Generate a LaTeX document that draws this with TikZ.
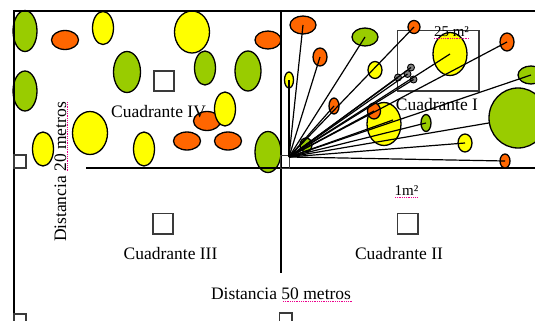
\documentclass[tikz,border=0pt]{standalone}
\usepackage{fontspec}
\setmainfont{Liberation Serif}
\usetikzlibrary{shapes.geometric}
\definecolor{grn}{HTML}{99CC00}
\definecolor{org}{HTML}{FF6600}
\definecolor{yel}{HTML}{FFFF00}
\definecolor{gry}{HTML}{7F7F7F}
\definecolor{sqc}{HTML}{3A3A3A}
\begin{document}
\begin{tikzpicture}[x=1pt,y=-1pt,
  ell/.style={ellipse, draw=black, line width=1.3pt, inner sep=0pt, outer sep=0pt},
  wh/.style 2 args={minimum width=#1pt, minimum height=#2pt},
  eg/.style={ell, fill=grn}, eo/.style={ell, fill=org}, ey/.style={ell, fill=yel},
  gc/.style={circle, draw=black, line width=0.9pt, fill=gry, inner sep=0pt, minimum size=7pt},
  ray/.style={line width=1.2pt},
  sq/.style={draw=sqc, line width=1.3pt},
  lbl/.style={font=\fontsize{17.5}{20}\selectfont, inner sep=0pt, anchor=base},
  slbl/.style={font=\fontsize{15}{17}\selectfont, inner sep=0pt, anchor=base},
  spell/.style={draw=magenta, line width=0.6pt, dash pattern=on 0.6pt off 1.2pt},
  frame/.style={line width=2.7pt, line join=miter},
  divider/.style={line width=2pt}]
\useasboundingbox (0,0) rectangle (535,321);
\clip (0,0) rectangle (535,321);
\fill[white] (0,0) rectangle (535,321);

% ---- Quadrant IV ellipses
\node[eg, wh={24}{41}] (g1) at (25,31) {};
\node[eo, wh={27}{19}] (o2) at (65,40) {};
\node[ey, wh={21}{33}] (y3) at (103,28) {};
\node[ey, wh={35}{42}] (y4) at (192,32) {};
\node[eo, wh={26}{18}] (o5) at (268,40) {};
\node[eg, wh={27}{41}] (g6) at (127,72) {};
\node[eg, wh={21}{34}] (g7) at (205,68) {};
\node[eg, wh={26}{40}] (g8) at (248,71) {};
\node[eg, wh={24}{40}] (g9) at (25,91) {};
\node[eo, wh={27}{19}] (o11) at (207,121) {};
\node[ey, wh={21}{34}] (y10) at (225,109) {};
\node[ey, wh={35}{43}] (y12) at (90,133) {};
\node[ey, wh={21}{34}] (y13) at (43,149) {};
\node[ey, wh={21}{34}] (y14) at (144,149) {};
\node[eo, wh={27}{18}] (o15) at (187,141) {};
\node[eo, wh={27}{18}] (o16) at (228,141) {};
\node[eg, wh={26}{41}] (g17) at (268,152) {};

% ---- frame and dividers
\draw[frame] (535,11) -- (14,11) -- (14,322);
\draw[divider] (280.5,11) -- (280.5,273);
\draw[divider] (86,168) -- (535,168);

% ---- squares
\draw[sq] (154,71) rectangle (174,91);
\draw[sq] (153,213.5) rectangle (173,234);
\draw[sq] (397.5,213.5) rectangle (418,234);
\draw[sq] (14,155) rectangle (26,168);
\draw[sq] (14,314) rectangle (26,326);
\draw[sq] (279.5,313) rectangle (292,326);
\draw[sq, line width=1pt] (280.5,155) rectangle (289,168);
\draw[sq, line width=1.2pt] (397.5,30.5) rectangle (479,91);

% ---- Quadrant I ellipses
\node[eo, wh={26}{18}] (o18) at (303,25) {};
\node[eo, wh={14}{18}] (o19) at (320,57) {};
\node[ey, wh={9}{16}] (y20) at (289,80) {};
\node[eg, wh={26}{18}] (g21) at (365,37) {};
\node[ey, wh={14}{17}] (y22) at (375,70) {};
\node[eo, wh={12}{13}] (o23) at (414,27) {};
\node[ey, wh={34}{43}] (y24) at (450,54) {};
\node[eo, wh={14}{18}] (o25) at (507,42) {};
\node[eg, wh={26}{18}] (g26) at (531,75) {};
\node[eo, wh={10}{16}] (o27) at (334,106) {};
\node[ey, wh={34}{43}] (y29) at (384,124) {};
\node[eo, wh={13}{16}] (o28) at (374,111) {};
\node[eg, wh={10}{17}] (g30) at (426,123) {};
\node[eg, wh={58}{60}] (g31) at (518,118) {};
\node[ey, wh={14}{18}] (y32) at (465,143) {};
\node[eg, wh={12}{14}] (g33) at (306,145) {};
\node[eo, wh={10}{14}] (o34) at (505,161) {};

\node[gc] (c1) at (398,77.5) {};
\node[gc] (c2) at (407.5,74) {};
\node[gc] (c3) at (411,67.5) {};
\node[gc] (c4) at (413.5,79.5) {};

% ---- rays
\coordinate (O) at (289,157);
\coordinate (e29) at (393,120);
\foreach \t in {o18,o19,y20,g21,o23,o27,c1,c2,c3,c4,y24,o25,g26,o28,g30,y32,o34,g33}
  \draw[ray] (O) -- (\t.center);
\draw[ray] (O) -- (e29);
\draw[ray] (O) -- (g31);

% ---- labels
\node[lbl] (q4) at (158.5,117) {Cuadrante IV};
\node[lbl] (q1) at (437,110) {Cuadrante I};
\node[lbl] (q3) at (170.5,259) {Cuadrante III};
\node[lbl] (q2) at (399,259) {Cuadrante II};
\node[lbl] (d50) at (281,299) {Distancia 50 metros};
\node[lbl, rotate=90] (d20) at (66,172) {Distancia 20 metros};
\node[slbl] (m1) at (406.5,195) {1m²};
\node[slbl] (m25) at (451.5,36.5) {25 m²};

% ---- spell-check underlines
\draw[spell] (283,301) -- (352,301);
\draw[spell] (67.5,102) -- (67.5,172);
\draw[spell] (395,197) -- (418,197);
\draw[spell] (434,38.5) -- (469,38.5);
\end{tikzpicture}
\end{document}
